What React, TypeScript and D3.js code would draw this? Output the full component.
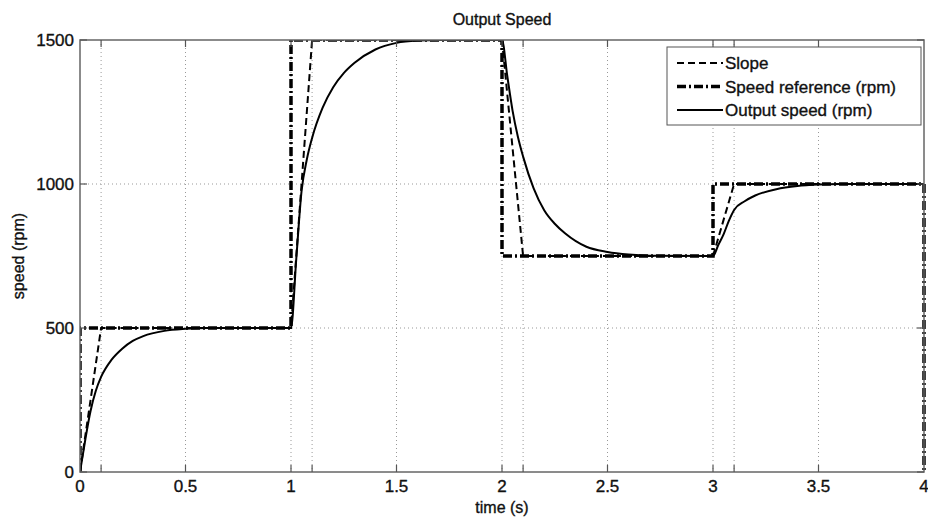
import React from "react";
import * as d3 from "d3";

// time axis (s)
const xLabelTicks = [0, 0.5, 1, 1.5, 2, 2.5, 3, 3.5, 4];
const xGridTicks = [0.1, 0.5, 1, 1.1, 1.5, 2, 2.1, 2.5, 3, 3.1, 3.5];
const yTicks = [0, 500, 1000, 1500];

// speed reference (rpm), step changes
const refTime = [0, 0, 1, 1, 2, 2, 3, 3, 4, 4];
const refSpeed = [0, 500, 500, 1500, 1500, 750, 750, 1000, 1000, 0];

// slope-limited reference
const slopeTime = [0, 0.1, 1, 1.1, 2, 2.1, 3, 3.1, 4];
const slopeSpeed = [0, 500, 500, 1500, 1500, 750, 750, 1000, 1000];

// measured output speed
const outTime = [
  0, 0.025, 0.05, 0.075, 0.1, 0.15, 0.2, 0.25, 0.3, 0.4, 0.5, 0.6, 1.0,
  1.025, 1.05, 1.075, 1.1, 1.15, 1.2, 1.25, 1.3, 1.4, 1.5, 1.6, 1.7, 2.0,
  2.025, 2.05, 2.075, 2.1, 2.15, 2.2, 2.25, 2.3, 2.4, 2.5, 2.6, 2.7, 3.0,
  3.025, 3.05, 3.075, 3.1, 3.15, 3.2, 3.3, 3.4, 3.5, 3.6, 4.0
];
const outSpeed = [
  0, 112, 212, 282, 330, 390, 428, 455, 472, 490, 497, 500, 500,
  740, 975, 1085, 1160, 1265, 1336, 1385, 1420, 1467, 1490, 1498, 1500, 1500,
  1375, 1255, 1165, 1095, 985, 909, 862, 828, 782, 764, 755, 751, 750,
  788, 825, 872, 910, 940, 960, 982, 993, 998, 1000, 1000
];

const legendItems = [
  { label: "Slope", dash: "7,4", width: 2 },
  { label: "Speed reference (rpm)", dash: "9,3,2,3", width: 3.5 },
  { label: "Output speed (rpm)", dash: null, width: 2 }
];

const W = 928;
const H = 520;
const left = 80;
const right = 924;
const top = 40;
const bottom = 472;
const font = "'Liberation Sans', Arial, Helvetica, sans-serif";
const ink = { fill: "#111", stroke: "#111", strokeWidth: 0.35 };

export default function App() {
  const x = d3.scaleLinear().domain([0, 4]).range([left, right]);
  const y = d3.scaleLinear().domain([0, 1500]).range([bottom, top]);

  const line = d3
    .line<[number, number]>()
    .x(d => x(d[0]))
    .y(d => y(d[1]));

  const smooth = d3
    .line<[number, number]>()
    .x(d => x(d[0]))
    .y(d => y(d[1]))
    .curve(d3.curveMonotoneX);

  const refPts = refTime.map((t, i) => [t, refSpeed[i]] as [number, number]);
  const slopePts = slopeTime.map((t, i) => [t, slopeSpeed[i]] as [number, number]);
  const outPts = outTime.map((t, i) => [t, outSpeed[i]] as [number, number]);

  return (
    <svg
      width={W}
      height={H}
      style={{ position: "absolute", left: 0, top: 0, background: "#fff" }}
      fontFamily={font}
    >
      <defs>
        <clipPath id="plot">
          <rect x={left} y={top} width={right - left + 2} height={bottom - top} />
        </clipPath>
      </defs>

      {/* grid */}
      {xGridTicks.map(t => (
        <line key={"gx" + t} x1={x(t)} x2={x(t)} y1={top} y2={bottom}
          stroke="#999" strokeWidth={1} strokeDasharray="1,3" />
      ))}
      {yTicks.slice(1, 3).map(v => (
        <line key={"gy" + v} x1={left} x2={right} y1={y(v)} y2={y(v)}
          stroke="#999" strokeWidth={1} strokeDasharray="1,3" />
      ))}

      {/* data */}
      <g clipPath="url(#plot)" fill="none" stroke="#000">
        <path d={smooth(outPts) || ""} strokeWidth={2} />
        <path d={line(slopePts) || ""} strokeWidth={2} strokeDasharray="7,4" />
        <path d={line(refPts) || ""} strokeWidth={3.5} strokeDasharray="9,3,2,3" />
      </g>

      {/* axes box and ticks */}
      <rect x={left} y={top} width={right - left} height={bottom - top}
        fill="none" stroke="#666" strokeWidth={1.5} />
      {xGridTicks.map(t => (
        <g key={"tx" + t} stroke="#555" strokeWidth={1.2}>
          <line x1={x(t)} x2={x(t)} y1={bottom} y2={bottom - 7} />
          <line x1={x(t)} x2={x(t)} y1={top} y2={top + 7} />
        </g>
      ))}
      {yTicks.map(v => (
        <g key={"ty" + v} stroke="#555" strokeWidth={1.2}>
          <line x1={left} x2={left + 7} y1={y(v)} y2={y(v)} />
          <line x1={right} x2={right - 7} y1={y(v)} y2={y(v)} />
        </g>
      ))}

      {/* tick labels */}
      {xLabelTicks.map(t => (
        <text key={"lx" + t} x={x(t)} y={492} textAnchor="middle" fontSize={17} {...ink}>
          {t}
        </text>
      ))}
      {yTicks.map(v => (
        <text key={"ly" + v} x={left - 6} y={y(v) + 6} textAnchor="end" fontSize={17} {...ink}>
          {v}
        </text>
      ))}

      {/* titles */}
      <text x={(left + right) / 2} y={25} textAnchor="middle" fontSize={16} {...ink}>
        Output Speed
      </text>
      <text x={(left + right) / 2} y={513} textAnchor="middle" fontSize={16} {...ink}>
        time (s)
      </text>
      <text transform={`translate(24,${(top + bottom) / 2}) rotate(-90)`} textAnchor="middle"
        fontSize={16} {...ink}>
        speed (rpm)
      </text>

      {/* legend */}
      <g>
        <rect x={667} y={47} width={254} height={78} fill="#fff" stroke="#555" strokeWidth={1} />
        {legendItems.map((d, i) => (
          <g key={d.label} transform={`translate(0,${63 + i * 23.5})`}>
            <line x1={677} x2={723} y1={0} y2={0} stroke="#000" strokeWidth={d.width}
              strokeDasharray={d.dash || undefined} />
            <text x={725} y={6} fontSize={17} {...ink}>{d.label}</text>
          </g>
        ))}
      </g>
    </svg>
  );
}
